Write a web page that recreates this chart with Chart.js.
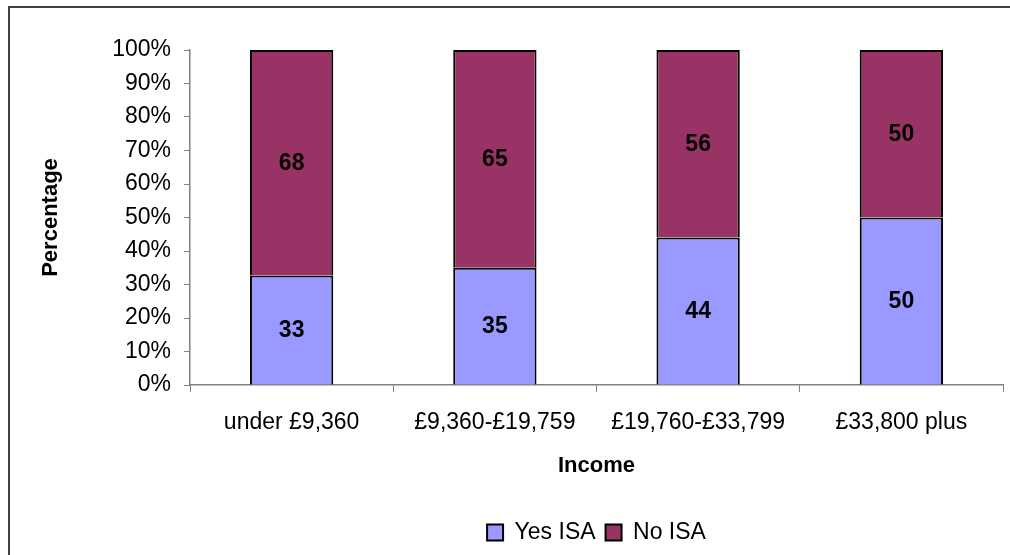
<!DOCTYPE html>
<html><head><meta charset="utf-8">
<script src="https://cdn.jsdelivr.net/npm/chart.js@4/dist/chart.umd.min.js"></script>
<style>html,body{margin:0;padding:0;background:#fff}#wrap{width:1010px;height:555px}</style>
</head><body><div id="wrap"><canvas id="c" width="1010" height="555"></canvas></div>
<script>
const categories = ['under £9,360', '£9,360-£19,759', '£19,760-£33,799', '£33,800 plus'];
const yesISA = [33, 35, 44, 50];
const noISA = [68, 65, 56, 50];
const yTicks = [0,10,20,30,40,50,60,70,80,90,100];

// 100% stacked shares
const totals = yesISA.map((v,i)=>v+noISA[i]);
const yesShare = yesISA.map((v,i)=>v/totals[i]*100);
const noShare = noISA.map((v,i)=>v/totals[i]*100);

const FONT = "'Liberation Sans', Arial, sans-serif";

const framePlugin = {
  id:'frame',
  beforeDraw(chart){
    const c=chart.ctx; c.save(); c.fillStyle='#fff'; c.fillRect(0,0,chart.width,chart.height);
    c.strokeStyle='#404040'; c.lineWidth=2; c.strokeRect(9,7,1100,700); c.restore();
  }
};
const labelPlugin = {
  id:'segLabels',
  afterDatasetsDraw(chart){
    const c=chart.ctx; c.save();
    c.font="bold 23px "+FONT; c.fillStyle='#000'; c.textAlign='center'; c.textBaseline='middle';
    const raw=[yesISA,noISA];
    chart.data.datasets.forEach((ds,di)=>{
      chart.getDatasetMeta(di).data.forEach((el,i)=>{
        const y=(el.y+el.base)/2;
        c.fillText(String(raw[di][i]), el.x, y+1);
      });
    });
    c.restore();
  }
};

new Chart(document.getElementById('c'), {
  type:'bar',
  data:{
    labels:categories,
    datasets:[
      {label:'Yes ISA', data:yesShare, backgroundColor:'#9999FF', borderColor:'#000', borderWidth:2, barPercentage:0.41, categoryPercentage:1},
      {label:'No ISA', data:noShare, backgroundColor:'#993366', borderColor:'#000', borderWidth:2, barPercentage:0.41, categoryPercentage:1}
    ]
  },
  options:{
    responsive:false, animation:false, devicePixelRatio:1,
    layout:{padding:{left:10, right:7, top:50, bottom:1}},
    plugins:{
      legend:{position:'bottom', fullSize:false,
        labels:{font:{family:FONT,size:23}, color:'#000', boxWidth:16, boxHeight:16, padding:10}},
      tooltip:{enabled:false}
    },
    scales:{
      x:{stacked:true,
        grid:{display:true, drawOnChartArea:false, tickLength:7, color:'#808080', offset:true},
        border:{color:'#808080', width:1.5},
        ticks:{font:{family:FONT,size:23}, color:'#000', padding:17, maxRotation:0},
        title:{display:true, text:'Income', font:{family:FONT,size:22,weight:'bold'}, color:'#000', padding:{top:0,bottom:32}},
        afterFit(s){ s.height=126; }
      },
      y:{stacked:true, min:0, max:100,
        afterBuildTicks(s){ s.ticks=yTicks.map(v=>({value:v})); },
        grid:{display:true, drawOnChartArea:false, tickLength:6, color:'#808080'},
        border:{color:'#808080', width:1.5},
        ticks:{font:{family:FONT,size:23}, color:'#000', padding:13, callback:v=>v+'%'},
        title:{display:true, text:'Percentage', font:{family:FONT,size:22,weight:'bold'}, color:'#000', padding:{top:28,bottom:0}},
        afterFit(s){ s.width=180; }
      }
    }
  },
  plugins:[framePlugin,labelPlugin]
});
</script></body></html>
